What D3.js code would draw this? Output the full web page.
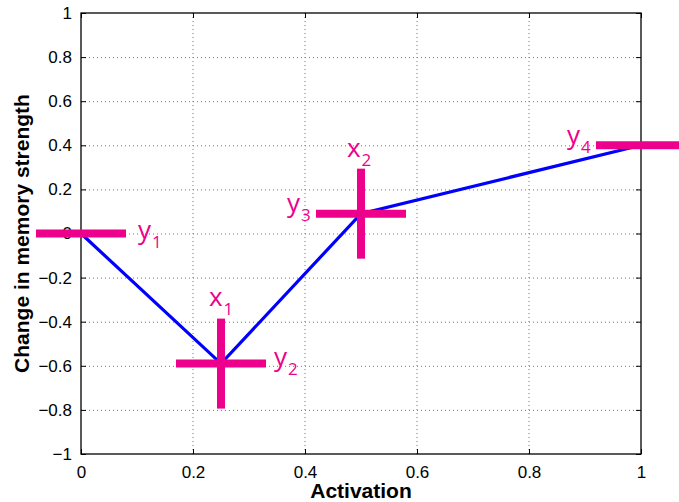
<!DOCTYPE html>
<html><head><meta charset="utf-8">
<script src="https://cdn.jsdelivr.net/npm/d3@7/dist/d3.min.js"></script>
<style>body{margin:0;background:#fff}svg{display:block}</style>
</head><body>
<svg id="c" width="679" height="502"></svg>
<script>
// Data
const activation = [0, 0.25, 0.5, 1];
const change = [0, -0.59, 0.09, 0.4];
const xTicks = [0, 0.2, 0.4, 0.6, 0.8, 1];
const yTicks = [-1, -0.8, -0.6, -0.4, -0.2, 0, 0.2, 0.4, 0.6, 0.8, 1];
const yMarkerLabels = ["y", "y", "y", "y"];
const yMarkerSubs = ["1", "2", "3", "4"];
const xMarkerIdx = [1, 2];
const xMarkerSubs = ["1", "2"];
const xLabel = "Activation";
const yLabel = "Change in memory strength";

const svg = d3.select("#c");
const L = 81, R = 641, T = 13, B = 454;
const x = d3.scaleLinear().domain([0, 1]).range([L, R]);
const y = d3.scaleLinear().domain([-1, 1]).range([B, T]);
const pink = "#EC008C";
const fmt = d => d === 0 ? "0" : (d < 0 ? "\u2212" + d3.format("")(Math.abs(d)) : d3.format("")(d));

// grid
const g = svg.append("g");
g.selectAll(".gx").data(xTicks.slice(1, -1)).join("line")
  .attr("x1", d => x(d)).attr("x2", d => x(d)).attr("y1", T).attr("y2", B)
  .attr("stroke", "#777").attr("stroke-width", 1).attr("stroke-dasharray", "1,3");
g.selectAll(".gy").data(yTicks.slice(1, -1)).join("line")
  .attr("y1", d => y(d) + 0.5).attr("y2", d => y(d) + 0.5).attr("x1", L).attr("x2", R)
  .attr("stroke", "#777").attr("stroke-width", 1).attr("stroke-dasharray", "1,3");

// axes with inward ticks
const fontAx = "'Liberation Sans', Arial, Helvetica, sans-serif";
const ax = svg.append("g");
ax.append("g").attr("transform", `translate(0,${B})`)
  .call(d3.axisBottom(x).tickValues(xTicks).tickSize(-5).tickPadding(12).tickFormat(fmt))
  .call(s => { s.select(".domain").remove(); s.selectAll("text").attr("font-size", 17).attr("font-family", fontAx).attr("fill", "#000"); });
ax.append("g").attr("transform", `translate(0,${T})`)
  .call(d3.axisTop(x).tickValues(xTicks).tickSize(-5).tickFormat(""))
  .call(s => s.select(".domain").remove());
ax.append("g").attr("transform", `translate(${L},0)`)
  .call(d3.axisLeft(y).tickValues(yTicks).tickSize(-5).tickPadding(9).tickFormat(fmt))
  .call(s => { s.select(".domain").remove(); s.selectAll("text").attr("font-size", 17).attr("font-family", fontAx).attr("fill", "#000"); });
ax.append("g").attr("transform", `translate(${R},0)`)
  .call(d3.axisRight(y).tickValues(yTicks).tickSize(-5).tickFormat(""))
  .call(s => s.select(".domain").remove());
ax.selectAll(".tick line").attr("stroke", "#000");
svg.append("rect").attr("x", L).attr("y", T).attr("width", R - L).attr("height", B - T)
  .attr("fill", "none").attr("stroke", "#000").attr("stroke-width", 1.3);

// line
const pts = activation.map((a, i) => [a, change[i]]);
svg.append("path").datum(pts)
  .attr("d", d3.line().x(d => x(d[0])).y(d => y(d[1])))
  .attr("fill", "none").attr("stroke", "#0000FF").attr("stroke-width", 3.2);

// markers
const half = 45, thick = 8;
svg.selectAll(".hb").data(pts).join("line")
  .attr("x1", d => x(d[0]) - half).attr("x2", d => x(d[0]) + half)
  .attr("y1", d => y(d[1])).attr("y2", d => y(d[1]))
  .attr("stroke", pink).attr("stroke-width", thick);
svg.selectAll(".vb").data(xMarkerIdx).join("line")
  .attr("x1", i => x(activation[i])).attr("x2", i => x(activation[i]))
  .attr("y1", i => y(change[i]) - half).attr("y2", i => y(change[i]) + half)
  .attr("stroke", pink).attr("stroke-width", thick);

// labels
const lf = "'Open Sans', 'Noto Sans', sans-serif";
const yOff = [[57, 5], [53, 2], [-74, -2], [-74, -1]];
const xOff = [[-12, -58], [-14, -57]];
function lab(px, py, main, sub) {
  const t = svg.append("text").attr("x", px).attr("y", py)
    .attr("font-family", lf).attr("font-size", 26).attr("fill", pink);
  t.append("tspan").text(main);
  t.append("tspan").attr("font-size", 17).attr("dy", 9).attr("dx", 1).text(sub);
}
pts.forEach((d, i) => lab(x(d[0]) + yOff[i][0], y(d[1]) + yOff[i][1], yMarkerLabels[i], yMarkerSubs[i]));
xMarkerIdx.forEach((idx, k) => lab(x(activation[idx]) + xOff[k][0], y(change[idx]) + xOff[k][1], "x", xMarkerSubs[k]));

// axis titles
svg.append("text").attr("x", (L + R) / 2).attr("y", 498).attr("text-anchor", "middle")
  .attr("font-family", fontAx).attr("font-weight", "bold").attr("font-size", 21).text(xLabel);
svg.append("text").attr("transform", `translate(29,${(T + B) / 2}) rotate(-90)`).attr("text-anchor", "middle")
  .attr("font-family", fontAx).attr("font-weight", "bold").attr("font-size", 21).text(yLabel);
</script>
</body></html>
